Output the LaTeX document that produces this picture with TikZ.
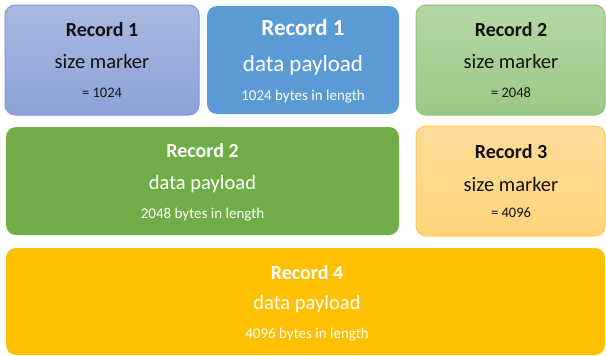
\documentclass[tikz,border=0pt]{standalone}
\usepackage{fontspec}
\setmainfont{Carlito}
\begin{document}
\begin{tikzpicture}[x=1pt,y=-1pt,
  box/.style={rectangle, rounded corners=10pt, inner sep=0pt, line width=1pt},
  ttl/.style={anchor=base, inner sep=0pt, font=\fontsize{20}{24}\selectfont\bfseries},
  bigttl/.style={anchor=base, inner sep=0pt, font=\fontsize{23}{27}\selectfont\bfseries},
  sub/.style={anchor=base, inner sep=0pt, font=\fontsize{20.5}{24}\selectfont},
  bigsub/.style={anchor=base, inner sep=0pt, font=\fontsize{23}{27}\selectfont},
  small/.style={anchor=base, inner sep=0pt, font=\fontsize{15}{18}\selectfont},
  eqs/.style={anchor=base, inner sep=0pt, font=\fontsize{14.5}{17}\selectfont},
]
\definecolor{lavTop}{HTML}{AAB9E2}
\definecolor{lavBot}{HTML}{8CA2D7}
\definecolor{lavLine}{HTML}{7F98D3}
\definecolor{blueFill}{HTML}{5B9BD5}
\definecolor{grnTop}{HTML}{B6D7A5}
\definecolor{grnBot}{HTML}{9BC886}
\definecolor{grnLine}{HTML}{8FC27A}
\definecolor{grnFill}{HTML}{70AD47}
\definecolor{orTop}{HTML}{FFDD99}
\definecolor{orBot}{HTML}{FFD47C}
\definecolor{orLine}{HTML}{FFC94D}
\definecolor{yelFill}{HTML}{FFC000}
\definecolor{darktext}{HTML}{111111}

\useasboundingbox (0,0) rectangle (606,356);

% Row 1
\node[box, draw=lavLine, top color=lavTop, bottom color=lavBot,
      minimum width=194pt, minimum height=110pt] (a) at (102,60) {};
\node[ttl, text=darktext] (a1) at (102,37) {Record 1};
\node[sub, text=darktext] (a2) at (102,68) {size marker};
\node[eqs, text=darktext] (a3) at (102,97) {= 1024};

\node[box, fill=blueFill, minimum width=192pt, minimum height=108pt] (b) at (303,60) {};
\node[bigttl, text=white] (b1) at (303,35) {Record 1};
\node[bigsub, text=white] (b2) at (303,71) {data payload};
\node[small, text=white] (b3) at (303,100) {1024 bytes in length};

\node[box, draw=grnLine, top color=grnTop, bottom color=grnBot,
      minimum width=189pt, minimum height=110pt] (c) at (510.5,60) {};
\node[ttl, text=darktext] (c1) at (511,37) {Record 2};
\node[sub, text=darktext] (c2) at (511,68) {size marker};
\node[eqs, text=darktext] (c3) at (511,97) {= 2048};

% Row 2
\node[box, fill=grnFill, minimum width=393pt, minimum height=108pt] (d) at (202.5,181) {};
\node[ttl, text=white] (d1) at (202.5,157) {Record 2};
\node[sub, text=white] (d2) at (202.5,189) {data payload};
\node[small, text=white] (d3) at (202.5,218) {2048 bytes in length};

\node[box, draw=orLine, top color=orTop, bottom color=orBot,
      minimum width=189pt, minimum height=110pt] (e) at (510.5,181) {};
\node[ttl, text=darktext] (e1) at (511,158) {Record 3};
\node[sub, text=darktext] (e2) at (511,191) {size marker};
\node[eqs, text=darktext] (e3) at (511,217) {= 4096};

% Row 3
\node[box, fill=yelFill, minimum width=599pt, minimum height=107pt] (f) at (305.5,301.5) {};
\node[ttl, text=white] (f1) at (307,279) {Record 4};
\node[sub, text=white] (f2) at (307,309) {data payload};
\node[small, text=white] (f3) at (307,338) {4096 bytes in length};
\end{tikzpicture}
\end{document}
